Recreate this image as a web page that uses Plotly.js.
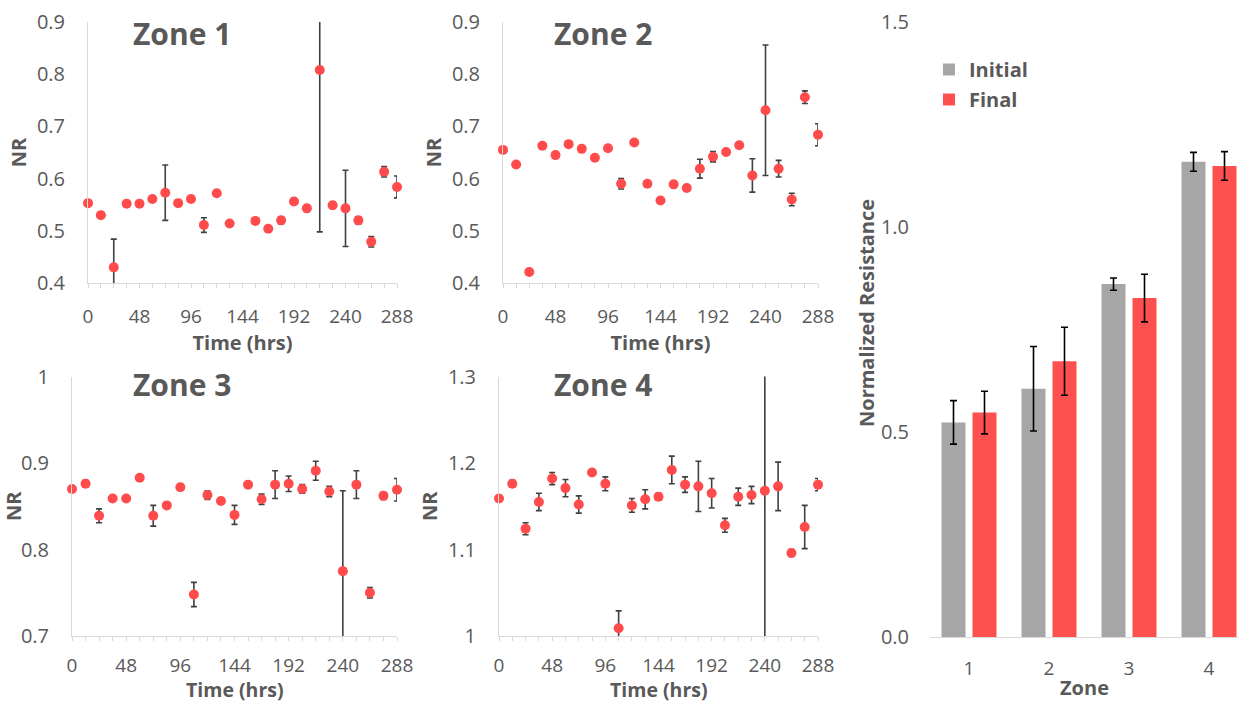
<!DOCTYPE html>
<html>
<head>
<meta charset="utf-8">
<script src="https://cdn.plot.ly/plotly-3.0.1.min.js"></script>
<style>html,body{margin:0;padding:0;background:#fff;}#chart{width:1239px;height:704px;}</style>
</head>
<body>
<div id="chart"></div>
<script>
// ---- data ----
const hours = [0,12,24,36,48,60,72,84,96,108,120,132,144,156,168,180,192,204,216,228,240,252,264,276,288];

const zone1NR  = [0.553,0.530,0.430,0.552,0.552,0.561,0.573,0.553,0.561,0.511,0.572,0.514,null,0.519,0.504,0.520,0.556,0.543,0.808,0.549,0.543,0.520,0.479,0.613,0.584];
const zone1Err = [0.003,0.003,0.054,0.003,0.003,0.003,0.053,0.003,0.003,0.014,0.003,0.003,null,0.003,0.003,0.007,0.005,0.003,0.310,0.006,0.073,0.007,0.010,0.010,0.021];

const zone2NR  = [0.655,0.627,0.421,0.663,0.645,0.666,0.657,0.640,0.658,0.590,0.669,0.590,0.558,0.589,0.582,0.619,0.642,0.651,0.664,0.606,0.731,0.619,0.560,0.756,0.684];
const zone2Err = [0.003,0.003,0.003,0.003,0.003,0.003,0.003,0.003,0.003,0.010,0.003,0.003,0.003,0.003,0.003,0.018,0.010,0.003,0.003,0.032,0.125,0.016,0.012,0.012,0.021];

const zone3NR  = [0.870,0.876,0.839,0.859,0.859,0.883,0.839,0.851,0.872,0.748,0.863,0.856,0.840,0.875,0.858,0.875,0.876,0.870,0.891,0.867,0.775,0.875,0.750,0.862,0.869];
const zone3Err = [0.002,0.004,0.008,0.002,0.002,0.002,0.012,0.002,0.003,0.014,0.005,0.003,0.011,0.002,0.006,0.016,0.009,0.005,0.011,0.006,0.093,0.016,0.006,0.004,0.013];

const zone4NR  = [1.159,1.176,1.124,1.155,1.182,1.171,1.152,1.189,1.176,1.009,1.151,1.158,1.161,1.192,1.175,1.173,1.165,1.128,1.161,1.163,1.168,1.173,1.096,1.126,1.175];
const zone4Err = [0.002,0.004,0.007,0.010,0.007,0.010,0.010,0.003,0.008,0.020,0.008,0.011,0.004,0.016,0.009,0.029,0.017,0.008,0.010,0.010,0.250,0.028,0.004,0.025,0.007];

const zones = [1,2,3,4];
const initialR   = [0.523,0.605,0.860,1.158];
const initialErr = [0.053,0.103,0.015,0.023];
const finalR     = [0.547,0.672,0.826,1.148];
const finalErr   = [0.052,0.083,0.058,0.035];

const xTicks = [0,48,96,144,192,240,288];
const zoneTitles = ['Zone 1','Zone 2','Zone 3','Zone 4'];

// ---- styling ----
const W = 1239, H = 704;
const FONT = 'Open Sans, DejaVu Sans, sans-serif';
const GRAY = '#595959';
const LINE = '#d9d9d9';
const RED = '#ff4b4b';
const px = v => v / W;
const py = v => 1 - v / H;

const series = [
  {nr: zone1NR, err: zone1Err, xa: 'x',  ya: 'y'},
  {nr: zone2NR, err: zone2Err, xa: 'x2', ya: 'y2'},
  {nr: zone3NR, err: zone3Err, xa: 'x3', ya: 'y3'},
  {nr: zone4NR, err: zone4Err, xa: 'x4', ya: 'y4'}
];

const traces = [];
series.forEach(s => {
  traces.push({
    type: 'scatter', mode: 'markers', x: hours, y: s.nr, xaxis: s.xa, yaxis: s.ya,
    marker: {size: 10, color: RED, opacity: 0},
    error_y: {type: 'data', array: s.err, visible: true, color: '#404040', thickness: 1.6, width: 3},
    showlegend: false, hoverinfo: 'skip', cliponaxis: true
  });
  traces.push({
    type: 'scatter', mode: 'markers', x: hours, y: s.nr, xaxis: s.xa, yaxis: s.ya,
    marker: {size: 10, color: RED},
    showlegend: false, cliponaxis: false
  });
});

traces.push({
  type: 'bar', name: 'Initial', x: zones, y: initialR, xaxis: 'x5', yaxis: 'y5',
  marker: {color: '#a6a6a6'},
  error_y: {type: 'data', array: initialErr, visible: true, color: '#000000', thickness: 1.6, width: 3.5},
  legendgroup: 'a'
});
traces.push({
  type: 'bar', name: 'Final', x: zones, y: finalR, xaxis: 'x5', yaxis: 'y5',
  marker: {color: '#ff5050'},
  error_y: {type: 'data', array: finalErr, visible: true, color: '#000000', thickness: 1.6, width: 3.5},
  legendgroup: 'b'
});

const tickFont = {family: FONT, size: 20, color: GRAY};
const xTickFont = {family: FONT, size: 19, color: GRAY};
const titleFont = {family: FONT, size: 20, color: GRAY, weight: 'bold'};

function xAxis(d0, d1, anchor, lblOff, withTitle) {
  const ax = {
    domain: [px(d0), px(d1)], anchor: anchor, range: [0, 288],
    tickvals: xTicks, ticks: 'outside', ticklen: 4, tickcolor: LINE, tickwidth: 1,
    minor: {dtick: 12, tick0: 0, ticks: 'outside', ticklen: 4, tickcolor: LINE, tickwidth: 1, showgrid: false},
    showline: true, linecolor: LINE, linewidth: 1, showgrid: false, zeroline: false,
    tickfont: xTickFont, ticklabelstandoff: lblOff
  };
  if (withTitle) ax.title = {text: 'Time (hrs)', font: titleFont, standoff: 0};
  return ax;
}
function yAxis(t, b, r0, r1, anchor) {
  return {
    domain: [py(b), py(t)], anchor: anchor, range: [r0, r1], dtick: 0.1, tick0: 0,
    ticks: '', showline: true, linecolor: LINE, linewidth: 1, showgrid: false, zeroline: false,
    tickfont: tickFont, ticklabelstandoff: 18,
    title: {text: 'NR', font: titleFont, standoff: 4}
  };
}

const annotations = [
  [182, 33], [603, 33], [182, 384], [603, 384]
].map((p, i) => ({
  xref: 'paper', yref: 'paper', x: px(p[0]), y: py(p[1]), xanchor: 'center', yanchor: 'middle',
  text: '<b>' + zoneTitles[i] + '</b>', showarrow: false,
  font: {family: FONT, size: 30, color: GRAY}
}));
annotations.push({
  xref: 'paper', yref: 'paper', x: px(866), y: py(313), xanchor: 'center', yanchor: 'middle',
  text: '<b>Normalized Resistance</b>', textangle: -90, showarrow: false,
  font: {family: FONT, size: 20, color: GRAY}
});
// bottom-row x titles (placed explicitly so they sit just under the tick labels)
['x3 domain', 'x4 domain'].forEach(ref => {
  annotations.push({
    xref: ref, yref: 'paper', x: 0.5, y: py(704), xanchor: 'center', yanchor: 'bottom',
    text: '<b>Time (hrs)</b>', showarrow: false, borderpad: 0,
    font: {family: FONT, size: 19.5, color: GRAY}
  });
});

const layout = {
  width: W, height: H,
  margin: {l: 0, r: 0, t: 0, b: 0, pad: 0},
  paper_bgcolor: '#ffffff', plot_bgcolor: '#ffffff',
  font: {family: FONT, color: GRAY},
  showlegend: true,
  legend: {
    x: px(929), y: py(50), xanchor: 'left', yanchor: 'top',
    font: {family: FONT, size: 20, color: GRAY, weight: 'bold'},
    bgcolor: 'rgba(0,0,0,0)', traceorder: 'grouped', tracegroupgap: 1
  },
  barmode: 'group', bargap: 0.225, bargroupgap: 0.225,
  xaxis:  xAxis(88, 397, 'y', 12, true),
  yaxis:  yAxis(22, 283, 0.4, 0.9, 'x'),
  xaxis2: xAxis(503, 818, 'y2', 12, true),
  yaxis2: yAxis(22, 283, 0.4, 0.9, 'x2'),
  xaxis3: xAxis(72, 397, 'y3', 8, false),
  yaxis3: yAxis(376.5, 636, 0.7, 1.0, 'x3'),
  xaxis4: xAxis(499, 818, 'y4', 8, false),
  yaxis4: yAxis(376.5, 636, 1.0, 1.3, 'x4'),
  xaxis5: {
    domain: [px(930), 1], anchor: 'y5', range: [0.5125, 4.375],
    tickvals: zones, ticks: '', showline: true, linecolor: LINE, linewidth: 1,
    showgrid: false, zeroline: false, tickfont: xTickFont, ticklabelstandoff: 14,
    title: {text: 'Zone', font: titleFont, standoff: 1}
  },
  yaxis5: {
    domain: [py(637), py(21.5)], anchor: 'x5', range: [0, 1.5], dtick: 0.5, tick0: 0,
    tickformat: '.1f', ticks: '', showline: false, showgrid: false, zeroline: false,
    tickfont: tickFont, ticklabelstandoff: 20
  },
  annotations: annotations
};

Plotly.newPlot('chart', traces, layout, {displayModeBar: false, staticPlot: true});
</script>
</body>
</html>
